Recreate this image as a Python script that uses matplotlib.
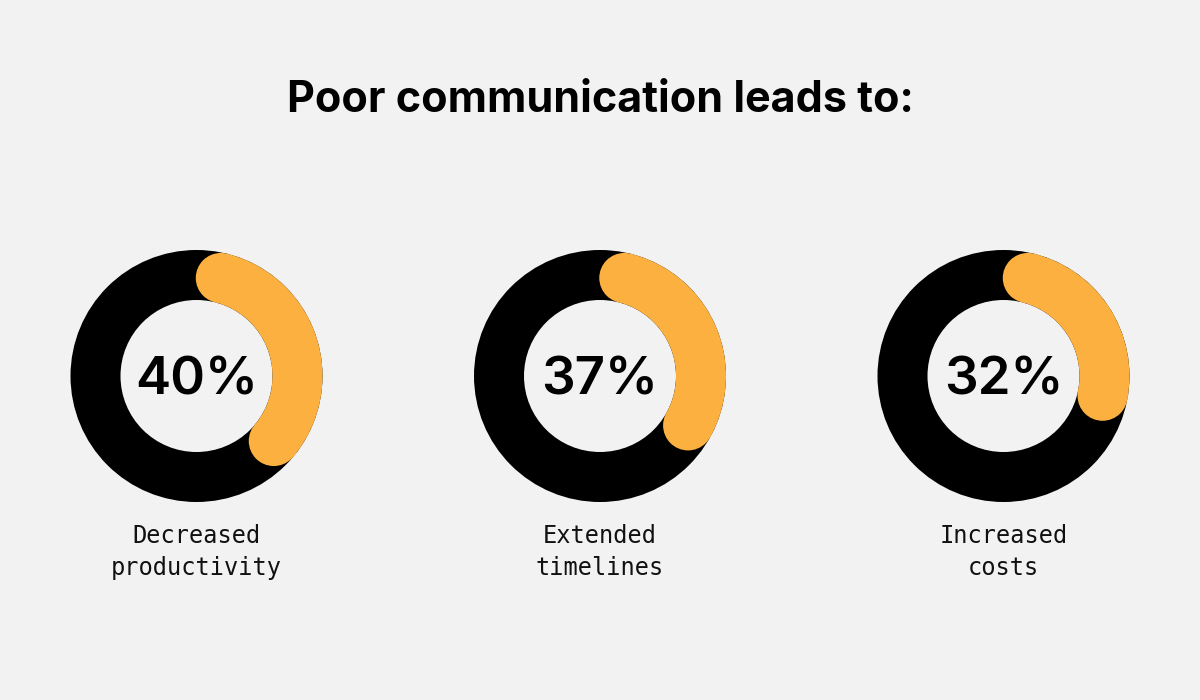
import matplotlib.pyplot as plt
from matplotlib.patches import Wedge, Circle
import numpy as np

# dados
percents = [40, 37, 32]
labels = ['Decreased\nproductivity', 'Extended\ntimelines', 'Increased\ncosts']
title = 'Poor communication leads to:'

bg = '#f2f2f2'
orange = '#fbb040'

fig = plt.figure(figsize=(12, 7), dpi=100, facecolor=bg)
ax = fig.add_axes([0, 0, 1, 1])
ax.set_xlim(0, 1200)
ax.set_ylim(700, 0)
ax.set_aspect('equal')
ax.axis('off')

r_out = 126
r_in = 76
ring = r_out - r_in
r_mid = (r_out + r_in) / 2
cy = 376
centers = [196.5, 600, 1003.5]

for cx, p, lab in zip(centers, percents, labels):
    ax.add_patch(Circle((cx, cy), r_out, color='black', lw=0))
    ax.add_patch(Circle((cx, cy), r_in, color=bg, lw=0))
    # arco laranja com pontas arredondadas (o comprimento total inclui as pontas)
    cap = np.degrees(np.arctan2(ring / 2, r_mid))
    a0 = cap
    a1 = p / 100 * 360 - cap
    # angulos medidos a partir do topo, sentido horario (eixo y invertido)
    t1 = -90 + a0
    t2 = -90 + a1
    ax.add_patch(Wedge((cx, cy), r_out, t1, t2, width=ring, color=orange, lw=0))
    for a in (a0, a1):
        x = cx + r_mid * np.sin(np.radians(a))
        y = cy - r_mid * np.cos(np.radians(a))
        ax.add_patch(Circle((x, y), ring / 2, color=orange, lw=0))
    ax.text(cx, cy + 5, f'{p}%', ha='center', va='center', fontsize=38,
            fontweight='semibold', family='Inter', color='black')
    ax.text(cx, 552, lab, ha='center', va='center', fontsize=17,
            family='DejaVu Sans Mono', color='#111111', linespacing=1.4)

ax.text(600, 101, title, ha='center', va='center', fontsize=31,
        fontweight='bold', family='Inter', color='black')

fig.savefig('out.png', dpi=100, facecolor=bg)
